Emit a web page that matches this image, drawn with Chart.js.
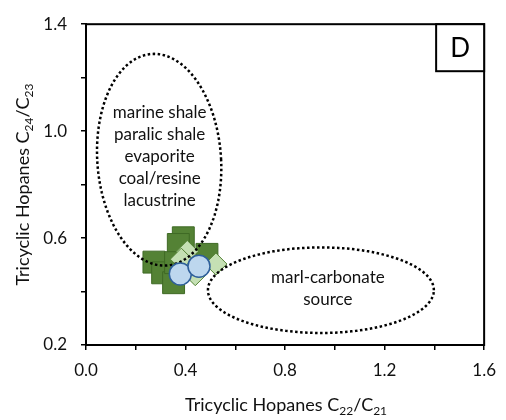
<!DOCTYPE html>
<html>
<head>
<meta charset="utf-8">
<script src="https://cdn.jsdelivr.net/npm/chart.js@4.4.1/dist/chart.umd.min.js"></script>
<style>
  html, body { margin: 0; padding: 0; background: #fff; }
</style>
</head>
<body>
<canvas id="tricyclicChart" width="506" height="420"></canvas>
<script>
// tick labels
const xTickLabels = ["0.0", "0.4", "0.8", "1.2", "1.6"];
const yTickLabels = ["0.2", "0.6", "1.0", "1.4"];

// samples (C22/C21 vs C24/C23)
const squareX = [0.273, 0.391, 0.371, 0.308, 0.352, 0.486, 0.360];
const squareY = [0.510, 0.601, 0.576, 0.470, 0.433, 0.539, 0.508];
const diamondX = [0.407, 0.383, 0.522, 0.439];
const diamondY = [0.550, 0.521, 0.503, 0.463];
const circleX = [0.379, 0.454];
const circleY = [0.466, 0.495];

// source fields: [centerX, centerY, halfWidth, halfHeight, shear]
const shaleField = [0.294, 0.893, 0.249, 0.396, 0.02];
const marlField = [0.944, 0.405, 0.454, 0.160, 0.0];
const shaleLabels = ["marine shale", "paralic shale", "evaporite", "coal/resine", "lacustrine"];
const marlLabels = ["marl-carbonate", "source"];
const panelLetter = "D";

const FONT = "Lato, 'Open Sans', sans-serif";
const TEXT_COLOR = "#111";

function toPoints(xs, ys) {
  return xs.map((x, i) => ({ x: x, y: ys[i] }));
}

function ellipsePoints(field) {
  const [cx, cy, a, b, shear] = field;
  const pts = [];
  const n = 160;
  for (let i = 0; i <= n; i++) {
    const t = (2 * Math.PI * i) / n;
    pts.push({ x: cx + a * Math.cos(t) - shear * Math.sin(t), y: cy + b * Math.sin(t) });
  }
  return pts;
}

// axis title with subscripts, parts = [text, isSub]
function drawSubTitle(ctx, parts, x, y, rotate) {
  const mainFont = "18px " + FONT;
  const subFont = "12px " + FONT;
  let total = 0;
  parts.forEach(([t, sub]) => {
    ctx.font = sub ? subFont : mainFont;
    total += ctx.measureText(t).width;
  });
  ctx.save();
  ctx.translate(x, y);
  if (rotate) ctx.rotate(-Math.PI / 2);
  ctx.fillStyle = TEXT_COLOR;
  ctx.textBaseline = "alphabetic";
  ctx.textAlign = "left";
  let cur = -total / 2;
  parts.forEach(([t, sub]) => {
    ctx.font = sub ? subFont : mainFont;
    ctx.fillText(t, cur, sub ? 4 : 0);
    cur += ctx.measureText(t).width;
  });
  ctx.restore();
}

const decorations = {
  id: "decorations",
  afterDraw(chart) {
    const { ctx, chartArea, scales } = chart;
    const xs = scales.x, ys = scales.y;
    ctx.save();

    // frame
    ctx.strokeStyle = "#000";
    ctx.lineWidth = 2;
    ctx.strokeRect(chartArea.left, chartArea.top, chartArea.right - chartArea.left, chartArea.bottom - chartArea.top);

    // panel letter box
    const bw = 48, bh = 47;
    ctx.fillStyle = "#fff";
    ctx.fillRect(chartArea.right - bw, chartArea.top, bw, bh);
    ctx.strokeRect(chartArea.right - bw, chartArea.top, bw, bh);
    ctx.fillStyle = "#000";
    ctx.font = "26px " + FONT;
    ctx.textAlign = "center";
    ctx.textBaseline = "middle";
    ctx.fillText(panelLetter, chartArea.right - bw / 2, chartArea.top + bh / 2 + 1);

    // field labels
    ctx.font = "17px " + FONT;
    ctx.fillStyle = TEXT_COLOR;
    const sx = xs.getPixelForValue(shaleField[0] + 0.002);
    const sy = ys.getPixelForValue(shaleField[1]) - 3;
    shaleLabels.forEach((t, i) => ctx.fillText(t, sx, sy + (i - 2) * 22));
    const mx = xs.getPixelForValue(marlField[0] + 0.028);
    const my = ys.getPixelForValue(marlField[1]) - 2;
    marlLabels.forEach((t, i) => ctx.fillText(t, mx, my + (i - 0.5) * 22));
    ctx.restore();

    // axis titles
    const cx = (chartArea.left + chartArea.right) / 2;
    const cy = (chartArea.top + chartArea.bottom) / 2;
    drawSubTitle(ctx, [["Tricyclic Hopanes C", false], ["22", true], ["/C", false], ["21", true]], cx + 1, 411, false);
    drawSubTitle(ctx, [["Tricyclic Hopanes C", false], ["24", true], ["/C", false], ["23", true]], 29, cy, true);
  }
};

const axisStyle = {
  grid: { display: true, drawOnChartArea: false, drawTicks: true, tickLength: 5, color: "#000", lineWidth: 1.5 },
  border: { display: true, color: "#000", width: 2 }
};

new Chart(document.getElementById("tricyclicChart"), {
  type: "scatter",
  data: {
    datasets: [
      {
        label: "group C",
        data: toPoints(circleX, circleY),
        pointStyle: "circle",
        pointRadius: 11,
        backgroundColor: "#BDD7EE",
        borderColor: "#2E5F9A",
        borderWidth: 1.5,
        order: 0
      },
      {
        label: "shale field",
        type: "line",
        data: ellipsePoints(shaleField),
        showLine: true,
        pointRadius: 0,
        borderColor: "#000",
        borderWidth: 2.5,
        borderDash: [2.5, 2.5],
        fill: false,
        tension: 0,
        order: 1
      },
      {
        label: "marl field",
        type: "line",
        data: ellipsePoints(marlField),
        showLine: true,
        pointRadius: 0,
        borderColor: "#000",
        borderWidth: 2.5,
        borderDash: [2.5, 2.5],
        fill: false,
        tension: 0,
        order: 1
      },
      {
        label: "group B",
        data: toPoints(diamondX, diamondY),
        pointStyle: "rectRot",
        pointRadius: 11,
        backgroundColor: "#C5E0B4",
        borderColor: "#548235",
        borderWidth: 1,
        order: 2
      },
      {
        label: "group A",
        data: toPoints(squareX, squareY),
        pointStyle: "rect",
        pointRadius: 15.5,
        backgroundColor: "#548235",
        borderColor: "#3F6A25",
        borderWidth: 1,
        order: 3
      }
    ]
  },
  options: {
    responsive: false,
    animation: false,
    layout: { padding: { top: 16, right: 16, left: 0, bottom: 0 } },
    plugins: {
      legend: { display: false },
      tooltip: { enabled: false },
      title: { display: false }
    },
    scales: {
      x: {
        type: "linear",
        min: 0,
        max: 1.6,
        ...axisStyle,
        ticks: {
          stepSize: 0.2,
          padding: 10,
          color: TEXT_COLOR,
          font: { family: FONT, size: 17 },
          maxRotation: 0,
          autoSkip: false,
          callback: (v) => {
            const s = Number(v).toFixed(1);
            return xTickLabels.includes(s) ? s : "";
          }
        },
        afterFit: (scale) => { scale.height = 75; }
      },
      y: {
        type: "linear",
        min: 0.2,
        max: 1.4,
        ...axisStyle,
        ticks: {
          stepSize: 0.2,
          padding: 14,
          color: TEXT_COLOR,
          font: { family: FONT, size: 17 },
          autoSkip: false,
          callback: (v) => {
            const s = Number(v).toFixed(1);
            return yTickLabels.includes(s) ? s : "";
          }
        },
        afterFit: (scale) => { scale.width = 86; }
      }
    }
  },
  plugins: [decorations]
});
</script>
</body>
</html>
